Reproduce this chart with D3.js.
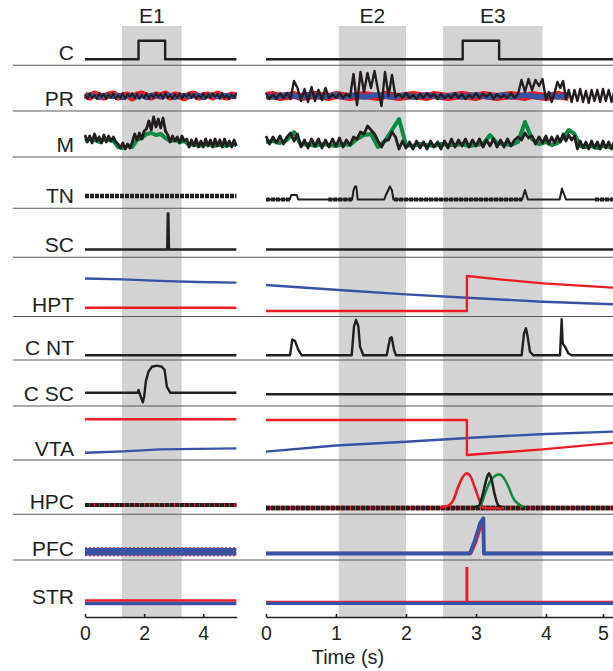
<!DOCTYPE html>
<html><head><meta charset="utf-8">
<script src="https://cdn.jsdelivr.net/npm/d3@7"></script>
<style>
body{margin:0;background:#fff}
text{font-family:"Liberation Sans",Arial,Helvetica,sans-serif;fill:#231f20}
</style>
</head><body>
<svg id="c" width="613" height="671"></svg>
<script>
// ---------- data ----------
const rowLabels = ["C","PR","M","TN","SC","HPT","C NT","C SC","VTA","HPC","PFC","STR"];
const eventLabels = ["E1","E2","E3"];
const eventPanels = ["L","R","R"];
const eventSpans = [[1.25,3.27],[1.04,2.0],[2.53,3.95]];
const ticksL = [0,2,4];
const ticksR = [0,1,2,3,4,5];
const xTitle = "Time (s)";

// sampling grids (time in s)
const gL  = d3.range(33).map(i => +(i*0.16).toFixed(2));
const gLf = d3.range(65).map(i => +(i*0.08).toFixed(2));
const gR  = d3.range(53).map(i => +(i*0.1).toFixed(2));
const gRf = d3.range(105).map(i => +(i*0.05).toFixed(2));

// C
const cL = [[0,0],[1.81,0],[1.81,1],[2.71,1],[2.71,0],[5.12,0]];
const cR = [[0,0],[2.81,0],[2.81,1],[3.33,1],[3.33,0],[5.2,0]];

// PR
const prRedL  = [0.1,-0.1,0.2,0,-0.1,0.1,0.2,-0.1,0,0.1,-0.2,0.1,0.2,0,-0.1,0.1,0,0.2,-0.1,0.1,0,-0.2,0.1,0.2,-0.1,0,0.1,-0.1,0.2,0,-0.1,0.1,0];
const prBlueL = [-0.1,0.1,0,-0.2,0.1,0,-0.1,0.1,-0.2,0,0.1,-0.1,0,-0.2,0.1,0,-0.1,0,0.1,-0.2,0,0.1,-0.1,0,0.1,-0.2,0,0.1,-0.1,0,0.1,-0.1,0];
const prBlackL = [0.2,-0.3,0.3,-0.2,0.1,-0.3,0.3,-0.1,0.2,-0.3,0.2,-0.2,0.3,-0.3,0.1,-0.2,0.3,-0.3,0.2,-0.1,0.3,-0.2,0.2,-0.3,0.1,-0.2,0.3,-0.3,0.2,-0.2,0.3,-0.1,0.2,-0.3,0.3,-0.2,0.1,-0.3,0.2,-0.2,0.3,-0.3,0.2,-0.1,0.3,-0.2,0.2,-0.3,0.1,-0.2,0.3,-0.3,0.2,-0.2,0.3,-0.1,0.2,-0.3,0.3,-0.2,0.1,-0.3,0.2,-0.2,0.3];
const prRedR  = [0,0.1,-0.1,0,0.1,-0.1,0,0.1,0,-0.1,0.1,0,-0.1,0,0.1,0,-0.1,0.1,0,-0.1,0,0.1,0,-0.1,0.1,0,-0.1,0,0.1,0,-0.1,0.1,0,-0.1,0,0.1,0,-0.1,0.1,0,-0.1,0,0.1,0,-0.1];
const prBlueR = [0,-0.1,0,0.1,0,-0.1,0.1,0,-0.1,0,0.1,-0.1,0,0.1,-0.1,0,0.1,0,-0.1,0,0.1,-0.1,0,0.1,0,-0.1,0,0.1,-0.1,0,0.1,0,-0.1,0,0.1,-0.1,0,0.1,0,-0.1,0,0.1,-0.1,0,0.1];
const prBlackR = [0.3,-0.3,0.2,-0.3,0.3,-0.2,0.3,-0.3,
  1.5,0.8,
  -0.5,0.7,-0.6,0.9,-0.5,0.6,-0.4,0.8,
  -0.2,0.2,-0.2,0.3,-0.2,0.2,-0.1,
  2.2,-0.9,2.4,0.4,2.3,0.8,2.5,0.6,-1.0,2.4,0.0,2.1,-0.1,
  0.2,-0.2,0.3,-0.2,0.1,-0.3,0.2,-0.2,0.3,-0.1,0.2,-0.3,0.2,-0.2,0.1,-0.2,0.3,-0.2,0.2,-0.3,0.1,-0.2,0.3,-0.2,0.2,-0.1,0.3,-0.3,0.2,-0.2,0.1,-0.2,0.3,-0.2,0.2,
  1.6,0.4,1.7,0.6,1.6,1.0,1.7,-0.4,0.4,-0.6,0.3,1.4,0.8,1.5,-0.3,0.6,
  -0.6,0.6,-0.5,0.7,-0.6,0.5,-0.7,0.6,-0.5,0.6,-0.6,0.7,-0.5,0.6,-0.6,0.5];

// M
const mGreenL = [0.2,0.4,0.3,0.1,0.4,0.3,0.2,-0.4,-0.5,-0.3,-0.4,0.3,0.5,0.9,1.0,0.8,0.9,0.5,0.2,0.3,0.1,0.2,-0.2,-0.1,-0.3,-0.2,-0.1,-0.3,-0.2,-0.2,-0.3,-0.1,-0.2];
const mBlackL = [0.8,0.1,0.7,0.0,0.9,0.2,0.6,0.0,0.8,0.1,0.7,0.2,0.6,0.1,
  -0.1,-0.5,0.0,-0.6,-0.1,-0.5,0.1,
  0.9,0.3,1.0,0.4,1.2,
  1.4,2.2,1.3,2.6,1.6,2.4,1.5,2.5,1.2,
  0.8,0.1,0.7,0.2,0.6,0.0,0.7,0.2,
  0.4,-0.4,0.3,-0.3,0.4,-0.4,0.2,-0.4,0.4,-0.3,0.3,-0.4,0.4,-0.3,0.3,-0.4,0.4,-0.3,0.2,-0.4,0.3,-0.3];
const mGreenR = [0.1,0.2,0,0.3,1.1,-0.2,-0.1,-0.3,-0.1,-0.2,-0.3,-0.1,-0.2,0.4,0.8,0.9,-0.4,0.2,1.3,2.4,
  -0.2,-0.3,-0.1,-0.2,-0.3,-0.1,-0.2,-0.2,-0.1,-0.3,-0.2,-0.1,0.8,0.0,-0.1,-0.2,0.1,2.1,0.4,
  -0.1,0.1,-0.2,0.0,0.5,1.3,0.9,-0.3,-0.4,-0.3,-0.5,-0.3,-0.4,-0.3];
const mBlackR = [0.7,-0.1,0.6,0.0,0.7,-0.1,0.6,
  1.0,0.2,0.9,
  -0.4,0.3,-0.5,0.4,-0.3,0.4,-0.5,0.3,-0.4,0.4,-0.3,0.5,-0.4,0.3,-0.2,
  0.6,0.4,1.1,0.9,1.7,1.3,0.9,0.2,-0.4,0.3,0.3,1.1,0.6,
  -0.6,0.2,-0.5,0.1,-0.6,0.2,-0.5,0.1,-0.6,0.2,-0.4,0.1,-0.6,0.2,-0.5,
  0.4,-0.4,0.3,-0.3,0.4,-0.4,0.3,-0.3,0.4,-0.4,0.3,-0.3,0.4,-0.4,0.3,-0.4,0.4,-0.3,0.3,
  0.6,0.3,1.0,0.5,
  0.7,-0.1,0.6,0.0,0.7,-0.1,0.6,0.0,0.7,
  0.1,0.9,0.2,0.8,0.3,0.7,
  -0.6,0.2,-0.5,0.1,-0.6,0.2,-0.5,0.1,-0.6,0.2,-0.5,0.1,-0.6,0.2];

// TN
const tnNoiseL = [[0,0.35],[5.12,0.35]];
const tnR = [[0,0],[0.34,0],[0.36,0.45],[0.44,0.45],[0.46,0],[1.23,0],[1.25,0.9],[1.27,1.3],[1.29,1.3],[1.31,0],[1.69,0],[1.71,0.4],[1.77,1.3],[1.8,0.9],[1.82,0],[3.66,0],[3.7,0.95],[3.74,0],[4.24,0],[4.28,1.1],[4.35,0],[5.2,0]];
const tnNoiseR = [[0,0],[0.34,0],null,[0.89,0],[1.23,0],null,[1.83,0],[3.66,0],null,[4.86,0],[5.2,0]];

// SC
const scL = [[0,0],[2.78,0],[2.8,1],[2.82,1],[2.84,0],[5.12,0]];
const scR = [[0,0],[5.2,0]];

// HPT
const hptBlueL = [[0,0.93],[1.3,0.905],[2.5,0.86],[3.8,0.83],[5.12,0.81]];
const hptRedL  = [[0,0.094],[5.12,0.094]];
const hptBlueR = [[0,0.743],[1.04,0.6],[2,0.476],[2.87,0.38],[3.96,0.266],[5.2,0.19]];
const hptRedR  = [[0,0],[2.87,0],[2.87,1.0],[3.3,0.91],[3.96,0.79],[5.2,0.666]];

// C NT
const cntL = [[0,0],[5.12,0]];
const cntR = [[0,0],[0.343,0],[0.376,0.44],[0.414,0.4],[0.462,0.15],[0.51,0],[1.224,0],[1.257,0.8],[1.286,0.98],[1.32,0.8],[1.343,0.24],[1.39,0],[1.724,0],[1.771,0.47],[1.795,0.5],[1.829,0.15],[1.857,0],[3.652,0],[3.686,0.61],[3.714,0.75],[3.738,0.52],[3.771,0.1],[3.819,0],[4.246,0],[4.275,1.0],[4.292,0.33],[4.333,0.24],[4.39,0.06],[4.45,0],[5.2,0]];

// C SC
const cscL = [[0,0],[1.79,0],[1.808,0.1],[1.887,-0.15],[1.955,-0.36],[2.0,-0.15],[2.056,0.41],[2.147,0.78],[2.26,0.96],[2.43,1.0],[2.6,0.96],[2.69,0.85],[2.77,0.22],[2.88,0],[5.12,0]];
const cscR = [[0,-0.06],[5.2,-0.06]];

// VTA
const vtaRedL  = [[0,1.02],[5.12,1.02]];
const vtaBlueL = [[0,0.066],[1.3,0.105],[2.54,0.16],[5.12,0.19]];
const vtaRedR  = [[0,1.0],[2.87,1.0],[2.87,0],[3.95,0.16],[5.2,0.35]];
const vtaBlueR = [[0,0.095],[1,0.27],[2,0.38],[3,0.5],[4,0.6],[5.2,0.67]];

// HPC
const hpcNoiseL = [[0,0.06],[5.12,0.06]];
const hpcNoiseR = [[0,-0.03],[5.2,-0.03]];
const hpcRedR   = [[2.5,0],[2.58,0.02],[2.676,0.21],[2.747,0.62],[2.82,0.94],[2.867,1.02],[2.924,0.92],[2.986,0.57],[3.057,0.16],[3.1,0.0],[3.15,-0.04],[3.34,-0.04],[3.4,-0.02]];
const hpcGreenR = [[3.0,0],[3.057,0.03],[3.129,0.41],[3.2,0.77],[3.27,0.94],[3.329,0.99],[3.39,0.9],[3.462,0.62],[3.533,0.26],[3.605,0.09],[3.676,0]];
const hpcBlackR = [[2.98,0],[3.033,0.02],[3.1,0.41],[3.153,0.87],[3.186,1.02],[3.224,0.81],[3.27,0.35],[3.319,0.05],[3.367,0]];

// PFC
const pfcL     = [[0,0.05],[5.12,0.05]];
const pfcRedR  = [[0,0.01],[2.93,0.01],[3.0,0.33],[3.06,0.7],[3.1,0.85],[3.11,0.01],[5.2,0.01]];
const pfcBlueR = [[0,0],[2.914,0],[2.986,0.37],[3.057,0.84],[3.105,0.98],[3.114,0],[5.2,0]];

// STR
const strRedL   = [[0,0.07],[5.12,0.07]];
const strBlueL  = [[0,-0.014],[5.12,-0.014]];
const strRedR   = [[0,0.04],[5.2,0.04]];
const strSpikeR = [[2.87,0],[2.87,1.0]];
const strBlueR  = [[0,-0.01],[5.2,-0.01]];

// ---------- layout ----------
const W = 613, H = 671;
const rowBase = [59.3,96,143,199.5,249.5,311,355.3,392.7,455,507,553.5,603];
const rowUnit = [18.6,10,10,10,36,35,36,27,35,33,36,36];
const rowLabelY = [60,106,152,203,252,311.5,355,401,455.5,509,555.5,604];
const sepY = [65.3,111,157,208.3,257.3,316.5,360,406,460,514.3,560];
const axisY = 617, shadeTop = 26;

const RED = "#ed1c24", BLUE = "#3953a4", GREEN = "#0a8d43", BLACK = "#231f20";

const xL = d3.scaleLinear().domain([0,5.13]).range([85,236.7]);
const xR = d3.scaleLinear().domain([0,4,5,5.2]).range([266,546,603,614.4]);
const xs = {L:xL, R:xR};
const ys = rowBase.map((b,i) => d3.scaleLinear().domain([0,1]).range([b, b-rowUnit[i]]));

const onGrid = (grid, vals) => vals.map((v,i) => [grid[i], v]);

const series = [
  // row 0 C
  {p:"L",r:0,d:cL,c:BLACK,w:2.4},
  {p:"R",r:0,d:cR,c:BLACK,w:2.4},
  // row 1 PR
  {p:"L",r:1,d:onGrid(gL,prRedL),c:RED,w:7},
  {p:"L",r:1,d:onGrid(gL,prBlueL),c:BLUE,w:4.5},
  {p:"L",r:1,d:onGrid(gLf,prBlackL),c:BLACK,w:1.8},
  {p:"R",r:1,d:onGrid(gR,prRedR),c:RED,w:8},
  {p:"R",r:1,d:onGrid(gR,prBlueR),c:BLUE,w:5.5},
  {p:"R",r:1,d:onGrid(gRf,prBlackR),c:BLACK,w:2.4},
  // row 2 M
  {p:"L",r:2,d:onGrid(gL,mGreenL),c:GREEN,w:4},
  {p:"L",r:2,d:onGrid(gLf,mBlackL),c:BLACK,w:2.8},
  {p:"R",r:2,d:onGrid(gR,mGreenR),c:GREEN,w:4},
  {p:"R",r:2,d:onGrid(gRf,mBlackR),c:BLACK,w:2.8},
  // row 3 TN
  {p:"L",r:3,d:tnNoiseL,c:BLACK,w:4.5,dash:"4,1"},
  {p:"R",r:3,d:tnR,c:BLACK,w:2},
  {p:"R",r:3,d:tnNoiseR,c:BLACK,w:4,dash:"4,1"},
  // row 4 SC
  {p:"L",r:4,d:scL,c:BLACK,w:2.4},
  {p:"R",r:4,d:scR,c:BLACK,w:2.4},
  // row 5 HPT
  {p:"L",r:5,d:hptBlueL,c:BLUE,w:2.4},
  {p:"L",r:5,d:hptRedL,c:RED,w:2.4},
  {p:"R",r:5,d:hptBlueR,c:BLUE,w:2.4},
  {p:"R",r:5,d:hptRedR,c:RED,w:2.4},
  // row 6 C NT
  {p:"L",r:6,d:cntL,c:BLACK,w:2.4},
  {p:"R",r:6,d:cntR,c:BLACK,w:2.4},
  // row 7 C SC
  {p:"L",r:7,d:cscL,c:BLACK,w:2.4},
  {p:"R",r:7,d:cscR,c:BLACK,w:2.4},
  // row 8 VTA
  {p:"L",r:8,d:vtaRedL,c:RED,w:2.4},
  {p:"L",r:8,d:vtaBlueL,c:BLUE,w:2.4},
  {p:"R",r:8,d:vtaBlueR,c:BLUE,w:2.4},
  {p:"R",r:8,d:vtaRedR,c:RED,w:2.4},
  // row 9 HPC
  {p:"L",r:9,d:hpcNoiseL,c:RED,w:4},
  {p:"L",r:9,d:hpcNoiseL,c:BLACK,w:4,dash:"4,1"},
  {p:"R",r:9,d:hpcNoiseR,c:RED,w:4.5},
  {p:"R",r:9,d:hpcNoiseR,c:GREEN,w:4.5,dash:"2,3"},
  {p:"R",r:9,d:hpcNoiseR,c:BLACK,w:4.5,dash:"4,1"},
  {p:"R",r:9,d:hpcRedR,c:RED,w:2.6,curve:d3.curveMonotoneX},
  {p:"R",r:9,d:hpcGreenR,c:GREEN,w:2.6,curve:d3.curveMonotoneX},
  {p:"R",r:9,d:hpcBlackR,c:BLACK,w:2.6,curve:d3.curveMonotoneX},
  // row 10 PFC
  {p:"L",r:10,d:pfcL,c:RED,w:9,dash:"2,2"},
  {p:"L",r:10,d:pfcL,c:BLUE,w:7.5},
  {p:"R",r:10,d:pfcRedR,c:RED,w:3},
  {p:"R",r:10,d:pfcBlueR,c:BLUE,w:3.8},
  // row 11 STR
  {p:"L",r:11,d:strRedL,c:RED,w:2.6},
  {p:"L",r:11,d:strBlueL,c:BLUE,w:3.4},
  {p:"R",r:11,d:strRedR,c:RED,w:1.6},
  {p:"R",r:11,d:strSpikeR,c:RED,w:3},
  {p:"R",r:11,d:strBlueR,c:BLUE,w:3.4},
];

// ---------- draw ----------
const svg = d3.select("#c");

// shading
svg.append("g").selectAll("rect").data(eventSpans).join("rect")
  .attr("x",(d,i)=>xs[eventPanels[i]](d[0]))
  .attr("width",(d,i)=>xs[eventPanels[i]](d[1])-xs[eventPanels[i]](d[0]))
  .attr("y",shadeTop).attr("height",axisY-shadeTop)
  .attr("fill","#d3d3d3");

// event labels
svg.append("g").selectAll("text").data(eventLabels).join("text")
  .attr("x",(d,i)=>(xs[eventPanels[i]](eventSpans[i][0])+xs[eventPanels[i]](eventSpans[i][1]))/2)
  .attr("y",22.7).attr("text-anchor","middle").attr("font-size",21).text(d=>d);

// separators
svg.append("g").selectAll("line").data(sepY).join("line")
  .attr("x1",13).attr("x2",W).attr("y1",d=>d).attr("y2",d=>d)
  .attr("stroke","#595959").attr("stroke-width",1.1);

// row labels
svg.append("g").selectAll("text").data(rowLabels).join("text")
  .attr("x",74).attr("y",(d,i)=>rowLabelY[i]).attr("text-anchor","end")
  .attr("font-size",21).text(d=>d);

// traces
const gT = svg.append("g");
series.forEach(s=>{
  const x = xs[s.p], y = ys[s.r];
  const line = d3.line().defined(d=>d!=null).x(d=>x(d[0])).y(d=>y(d[1])).curve(s.curve||d3.curveLinear);
  gT.append("path").attr("d",line(s.d)).attr("fill","none")
    .attr("stroke",s.c).attr("stroke-width",s.w)
    .attr("stroke-linejoin","round")
    .attr("stroke-dasharray",s.dash||null);
});

// axes
function drawAxis(scale, ticks){
  const g = svg.append("g").attr("transform",`translate(0,${axisY})`)
    .call(d3.axisBottom(scale).tickValues(ticks).tickSize(-3).tickSizeOuter(0).tickPadding(9).tickFormat(d3.format("d")));
  g.select(".domain").attr("stroke",BLACK).attr("stroke-width",1.6);
  g.selectAll(".tick line").attr("stroke",BLACK).attr("stroke-width",1.6);
  g.selectAll(".tick text").attr("font-size",19.5).attr("fill",BLACK)
    .attr("font-family",'"Liberation Sans",Arial,Helvetica,sans-serif');
}
drawAxis(xL, ticksL);
drawAxis(xR, ticksR);

svg.append("text").attr("x",348).attr("y",664).attr("text-anchor","middle")
  .attr("font-size",20).text(xTitle);
</script>
</body></html>
